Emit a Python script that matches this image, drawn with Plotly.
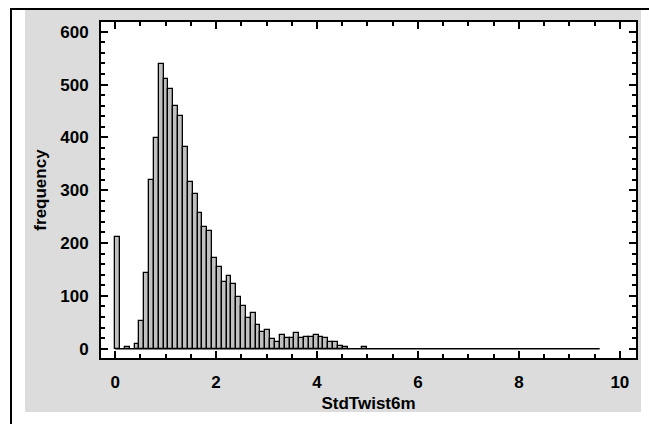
import plotly.graph_objects as go

# Histogram class parameters
lower_limit = 0.0
upper_limit = 9.6
n_classes = 100
bin_width = (upper_limit - lower_limit) / n_classes

# Frequencies for the first classes (remaining classes are 0)
counts_head = [211, 0, 3, 0, 9, 52, 144, 319, 398, 538,
               510, 491, 459, 440, 381, 316, 292, 256, 230, 222,
               171, 155, 127, 138, 122, 98, 81, 59, 68, 44,
               32, 35, 18, 12, 25, 20, 20, 30, 20, 22,
               22, 25, 23, 20, 12, 12, 6, 3, 0, 0,
               0, 3]
counts = counts_head + [0] * (n_classes - len(counts_head))
centers = [lower_limit + bin_width * (i + 0.5) for i in range(n_classes)]

x_ticks = [0, 2, 4, 6, 8, 10]
y_ticks = [0, 100, 200, 300, 400, 500, 600]

fig = go.Figure()
fig.add_trace(go.Scatter(
    x=[lower_limit, upper_limit], y=[0, 0], mode="lines",
    line=dict(color="black", width=1.5), hoverinfo="skip", showlegend=False))
fig.add_trace(go.Bar(
    x=[c for c, v in zip(centers, counts) if v > 0],
    y=[v for v in counts if v > 0],
    width=bin_width,
    marker=dict(color="#c0c0c0", line=dict(color="black", width=1.3)),
    showlegend=False))

FAM = "Liberation Sans, Arial, sans-serif"
font = dict(family=FAM, size=17, color="black")

W, H = 535, 336  # plot area size in px
fig.update_layout(
    width=649, height=424,
    margin=dict(l=101, r=13, t=22, b=66),
    paper_bgcolor="white",
    plot_bgcolor="white",
    font=font,
    bargap=0,
    shapes=[
        dict(type="rect", xref="paper", yref="paper", layer="below",
             x0=-76 / W, x1=1 + 5 / W, y0=-54 / H, y1=1 + 12 / H,
             fillcolor="#dcdcdc", line=dict(width=0)),
        dict(type="rect", xref="paper", yref="paper", layer="below",
             x0=0, x1=1, y0=0, y1=1,
             fillcolor="white", line=dict(width=0)),
        dict(type="line", xref="paper", yref="paper",
             x0=-90 / W, x1=-90 / W, y0=-70 / H, y1=1 + 14 / H,
             line=dict(color="black", width=2)),
        dict(type="line", xref="paper", yref="paper",
             x0=-90 / W, x1=1 + 13 / W, y0=1 + 13 / H, y1=1 + 13 / H,
             line=dict(color="black", width=2)),
    ],
    xaxis=dict(
        range=[-0.28, 10.32], tickvals=x_ticks, ticktext=[str(v) for v in x_ticks],
        automargin=False,
        showgrid=False, zeroline=False, showline=True, linecolor="black", linewidth=2,
        mirror="ticks", ticks="inside", ticklen=7, tickwidth=2, tickcolor="black",
        minor=dict(dtick=0.5, ticks="inside", ticklen=4, tickwidth=1.5, tickcolor="black"),
        ticklabelstandoff=8,
        tickfont=dict(family=FAM, size=17, color="black", weight="bold"),
        title=dict(text="<b>StdTwist6m</b>", standoff=6,
                   font=dict(family=FAM, size=17, color="black")),
    ),
    yaxis=dict(
        range=[-17.6, 618.4], tickvals=y_ticks, ticktext=[str(v) for v in y_ticks],
        automargin=False,
        showgrid=False, zeroline=False, showline=True, linecolor="black", linewidth=2,
        mirror="ticks", ticks="inside", ticklen=7, tickwidth=2, tickcolor="black",
        minor=dict(dtick=20, ticks="inside", ticklen=4, tickwidth=1.5, tickcolor="black"),
        ticklabelstandoff=7,
        tickfont=dict(family=FAM, size=17, color="black", weight="bold"),
        title=dict(text="<b>frequency</b>", standoff=9,
                   font=dict(family=FAM, size=17, color="black")),
    ),
)

fig.write_html("out.html", config={"displayModeBar": False},
               post_script="document.body.style.margin='0px';")
